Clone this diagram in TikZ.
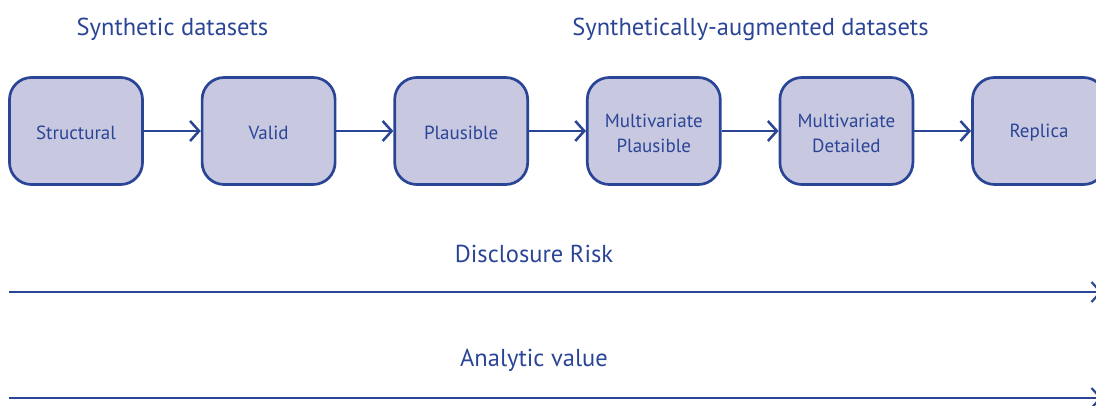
\documentclass[tikz,border=0pt]{standalone}
\usepackage{fontspec}
\setmainfont{PT Sans}
\usetikzlibrary{arrows.meta}
\definecolor{dblue}{HTML}{2B4596}
\definecolor{boxfill}{HTML}{C8C8E1}
\begin{document}
\begin{tikzpicture}[x=1pt,y=-1pt,
  stagebox/.style={draw=dblue,line width=2.7pt,fill=boxfill,rounded corners=22pt,
    minimum width=133pt,minimum height=107pt,text=dblue,font=\fontsize{19}{25}\selectfont,align=center,inner sep=0pt},
  flowarrow/.style={draw=dblue,line width=2.5pt,-{Straight Barb[length=9pt,width=20pt,line width=2.5pt]}},
  longarrow/.style={draw=dblue,line width=2.8pt,-{Straight Barb[length=9pt,width=20pt,line width=2.2pt]}},
  title/.style={text=dblue,font=\fontsize{24.5}{28}\selectfont,inner sep=0pt}]
\useasboundingbox (0,0) rectangle (1096,405);
\clip (0,0) rectangle (1096,405);
\node[title] (t1) at (172.5,29) {Synthetic datasets};
\node[title] (t2) at (750.5,29) {Synthetically-augmented datasets};
\node[stagebox] (b1) at (76,131) {};
\node[stagebox] (b2) at (268.6,131) {};
\node[stagebox] (b3) at (461.2,131) {};
\node[stagebox] (b4) at (653.8,131) {};
\node[stagebox] (b5) at (846.4,131) {};
\node[stagebox] (b6) at (1039,131) {};
\foreach \n/\t in {b1/Structural,b2/Valid,b3/Plausible,b4/{Multivariate\\Plausible},b5/{Multivariate\\Detailed},b6/Replica}
  \node[text=dblue,font=\fontsize{19}{25}\selectfont,align=center,inner sep=0pt] (\n t) at ([yshift=-2pt]\n.center) {\t};
\foreach \a/\b in {b1/b2,b2/b3,b3/b4,b4/b5,b5/b6}
  \draw[flowarrow] (\a.east) -- (\b.west);
\node[title] (dr) at (534,254) {Disclosure Risk};
\node[title] (av) at (534,360) {Analytic value};
\coordinate (l1s) at (9,292);
\coordinate (l1e) at (1102,292);
\coordinate (l2s) at (9,398);
\coordinate (l2e) at (1102,398);
\draw[longarrow] (l1s) -- (l1e);
\draw[longarrow] (l2s) -- (l2e);
\end{tikzpicture}
\end{document}
